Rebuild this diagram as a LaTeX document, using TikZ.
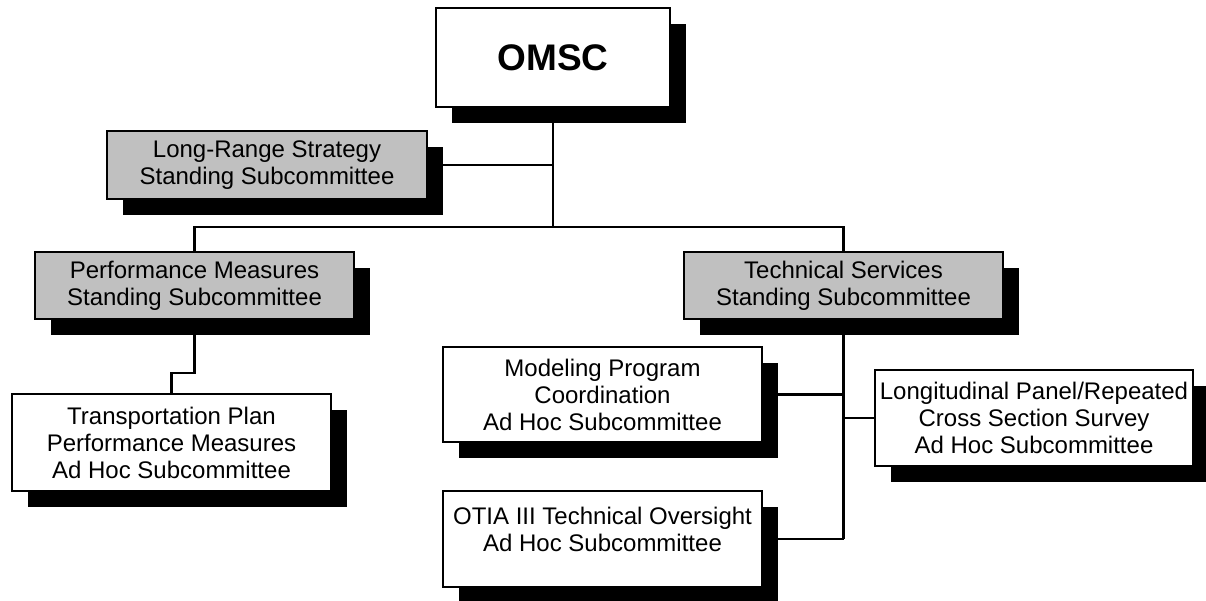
\documentclass[tikz,border=0pt]{standalone}
\usepackage{fontspec}
\setmainfont{Liberation Sans}
\usetikzlibrary{shadows,backgrounds}
\definecolor{boxgray}{RGB}{192,192,192}
\tikzset{
  orgbox/.style={draw=black, line width=2.4pt, fill=white, align=center, inner sep=0pt,
    minimum width=319pt, font=\fontsize{24}{27}\selectfont,
    drop shadow={shadow xshift=16pt, shadow yshift=-16pt, fill=black, opacity=1}},
  graybox/.style={orgbox, fill=boxgray},
  link/.style={draw=black, line width=2.4pt}
}
\begin{document}
\begin{tikzpicture}[x=1pt,y=-1pt]
\useasboundingbox (0,0) rectangle (1206,601);
\node[orgbox, minimum width=234pt, minimum height=99pt, font=\fontsize{37}{40}\selectfont\bfseries] (omsc) at (553,57.5) {OMSC};
\node[graybox, minimum width=320pt, minimum height=68pt] (lr) at (267,165) {Long-Range Strategy\\Standing Subcommittee};
\node[graybox, minimum height=67pt] (pm) at (194.5,285.5) {Performance Measures\\Standing Subcommittee};
\node[graybox, minimum height=67pt] (ts) at (843.5,285.5) {Technical Services\\Standing Subcommittee};
\node[orgbox, minimum height=97pt] (tp) at (171.5,442.5) {Transportation Plan\\Performance Measures\\Ad Hoc Subcommittee};
\node[orgbox, minimum height=95pt] (mp) at (602.5,394.5) {Modeling Program\\Coordination\\Ad Hoc Subcommittee};
\node[orgbox, minimum height=96pt] (ot) at (602.5,539) {OTIA III Technical Oversight\\Ad Hoc Subcommittee\\[-8pt]\mbox{}};
\node[orgbox, minimum width=318pt, minimum height=96pt] (lp) at (1034,418) {Longitudinal Panel/Repeated\\Cross Section Survey\\Ad Hoc Subcommittee};
\coordinate (hub) at (553,227);
\coordinate (tsdrop) at (843.5,539);
\begin{pgfonlayer}{background}
\draw[link] (omsc.south) -- (hub);
\draw[link] (lr.east) -- (lr.east -| hub);
\draw[link] (pm.north) |- (hub) -| (ts.north);
\draw[link] (pm.south) -- ++(0,53) -| (tp.north);
\draw[link] (ts.south) -- (tsdrop);
\draw[link] (mp.east) -- (mp.east -| tsdrop);
\draw[link] (lp.west) -- (lp.west -| tsdrop);
\draw[link] (ot.east) -- (tsdrop);
\end{pgfonlayer}
\end{tikzpicture}
\end{document}
